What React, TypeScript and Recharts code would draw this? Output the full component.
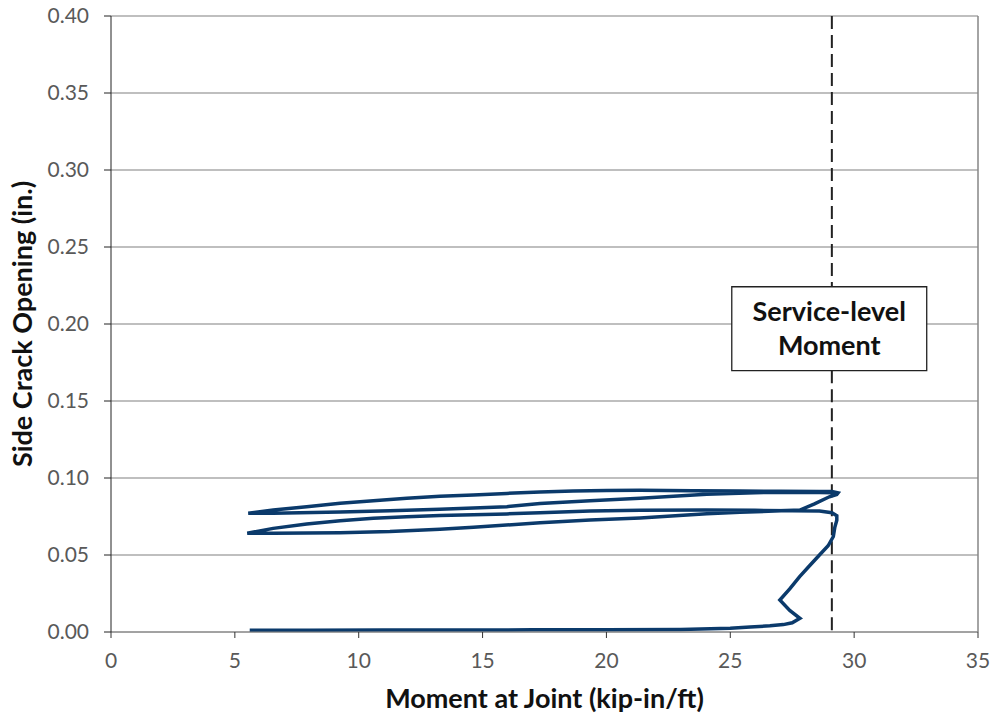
import React from "react";
import {
  LineChart,
  Line,
  XAxis,
  YAxis,
  CartesianGrid,
  ReferenceLine,
  ReferenceArea,
  Label,
} from "recharts";

// first loading: flat run along zero, small kink, then crack opens up to service level
const initialLoadMoment = [
  5.6, 8, 11, 14, 17, 20, 23, 25, 25.8, 26.6, 27.14, 27.5, 27.81, 27.4, 27.0,
  27.4, 27.8, 28.2, 28.6, 28.95, 29.16, 29.22, 29.3, 29.3, 29.1, 28.6,
];
const initialLoadOpening = [
  0.0012, 0.0012, 0.0013, 0.0013, 0.0014, 0.0014, 0.0016, 0.0024, 0.0033,
  0.004, 0.0048, 0.006, 0.0089, 0.014, 0.0208, 0.028, 0.036, 0.043, 0.05,
  0.056, 0.062, 0.068, 0.0725, 0.0755, 0.0775, 0.0785,
];

// first unloading back to the minimum moment
const firstUnloadMoment = [
  27.5, 26, 24, 21.36, 19.34, 17.32, 15.98, 13.28, 11.94, 10.59, 9.25, 7.9,
  6.55, 5.5,
];
const firstUnloadOpening = [
  0.0788, 0.079, 0.0792, 0.079, 0.0785, 0.0775, 0.0767, 0.0757, 0.0749,
  0.0738, 0.0723, 0.0701, 0.0673, 0.0641,
];

// second loading
const firstReloadMoment = [
  6.55, 9.25, 11.26, 13.28, 14.63, 17.32, 19.34, 21.36, 24.05, 25.39, 27.81,
  28.4, 29.0, 29.3, 29.35,
];
const firstReloadOpening = [
  0.0642, 0.0645, 0.0652, 0.0668, 0.068, 0.071, 0.0727, 0.0741, 0.0768,
  0.0777, 0.0792, 0.0832, 0.0878, 0.0893, 0.0903,
];

// second unloading
const secondUnloadMoment = [
  29.1, 28.6, 27, 25.4, 23.5, 21.36, 20.01, 18.66, 17.32, 15.98, 14.63, 13.28,
  11.94, 10.59, 9.25, 7.9, 6.55, 5.54,
];
const secondUnloadOpening = [
  0.0912, 0.0913, 0.0914, 0.0915, 0.0918, 0.092, 0.0919, 0.0915, 0.0909, 0.09,
  0.089, 0.0882, 0.0868, 0.0852, 0.0836, 0.0814, 0.0792, 0.0771,
];

// third loading
const secondReloadMoment = [
  6.55, 9.25, 11.26, 13.28, 15.98, 17.32, 19.34, 21.36, 22.7, 24.05, 26, 28,
  29.2,
];
const secondReloadOpening = [
  0.0771, 0.0779, 0.0787, 0.0797, 0.0814, 0.0834, 0.0852, 0.0868, 0.0882,
  0.0895, 0.0905, 0.0908, 0.0905,
];

const serviceMoment = 29.1;
const xTicks = [0, 5, 10, 15, 20, 25, 30, 35];
const yTicks = [0, 0.05, 0.1, 0.15, 0.2, 0.25, 0.3, 0.35, 0.4];

const segments: [number[], number[]][] = [
  [initialLoadMoment, initialLoadOpening],
  [firstUnloadMoment, firstUnloadOpening],
  [firstReloadMoment, firstReloadOpening],
  [secondUnloadMoment, secondUnloadOpening],
  [secondReloadMoment, secondReloadOpening],
];

const data = segments.flatMap(([xs, ys]) =>
  xs.map((x, i) => ({ moment: x, opening: ys[i] }))
);

const font = "Lato, 'Open Sans', sans-serif";

const ServiceLabel = (props: any) => {
  const vb = props.viewBox || {};
  const cx = vb.x + vb.width / 2;
  const cy = vb.y + vb.height / 2;
  return (
    <text
      textAnchor="middle"
      fontFamily={font}
      fontWeight="bold"
      fontSize={27}
      fill="#111"
    >
      <tspan x={cx} y={cy - 8}>
        Service-level
      </tspan>
      <tspan x={cx} y={cy + 26}>
        Moment
      </tspan>
    </text>
  );
};

export default function App() {
  return (
    <div style={{ position: "absolute", left: 0, top: 0, background: "#fff" }}>
      <LineChart
        width={993}
        height={716}
        data={data}
        margin={{ top: 16, right: 15, left: 0, bottom: 0 }}
      >
        <CartesianGrid vertical={false} stroke="#808080" strokeWidth={1.2} />
        <XAxis
          type="number"
          dataKey="moment"
          domain={[0, 35]}
          ticks={xTicks}
          height={84}
          stroke="#868686"
          tickLine={{ stroke: "#333" }}
          tickSize={6}
          tickMargin={15}
          tick={{ fill: "#595959", fontSize: 21, fontFamily: font }}
        >
          <Label
            value="Moment at Joint (kip-in/ft)"
            position="insideBottom"
            offset={8}
            style={{
              fontFamily: font,
              fontWeight: "bold",
              fontSize: 27,
              fill: "#111",
            }}
          />
        </XAxis>
        <YAxis
          type="number"
          domain={[0, 0.4]}
          ticks={yTicks}
          width={111}
          stroke="#222"
          tickSize={7}
          tickMargin={15}
          tickFormatter={(v: number) => v.toFixed(2)}
          tick={{ fill: "#595959", fontSize: 21, fontFamily: font }}
        >
          <Label
            value="Side Crack Opening (in.)"
            angle={-90}
            position="insideLeft"
            offset={22}
            style={{
              fontFamily: font,
              fontWeight: "bold",
              fontSize: 27,
              fill: "#111",
              textAnchor: "middle",
            }}
          />
        </YAxis>
        <ReferenceLine x={35} stroke="#868686" strokeWidth={1.5} />
        <ReferenceLine
          segment={[
            { x: serviceMoment, y: 0.4 },
            { x: serviceMoment, y: 0.224 },
          ]}
          stroke="#222"
          strokeWidth={2}
          strokeDasharray="13 6"
        />
        <ReferenceLine
          segment={[
            { x: serviceMoment, y: 0.17 },
            { x: serviceMoment, y: 0 },
          ]}
          stroke="#222"
          strokeWidth={2}
          strokeDasharray="13 6"
        />
        <ReferenceArea
          x1={25.06}
          x2={32.93}
          y1={0.1697}
          y2={0.2242}
          fill="#fff"
          fillOpacity={1}
          stroke="#222"
          strokeWidth={1.3}
          label={<ServiceLabel />}
        />
        <Line
          type="linear"
          dataKey="opening"
          stroke="#0b3a6b"
          strokeWidth={3.5}
          dot={false}
          isAnimationActive={false}
        />
      </LineChart>
    </div>
  );
}
